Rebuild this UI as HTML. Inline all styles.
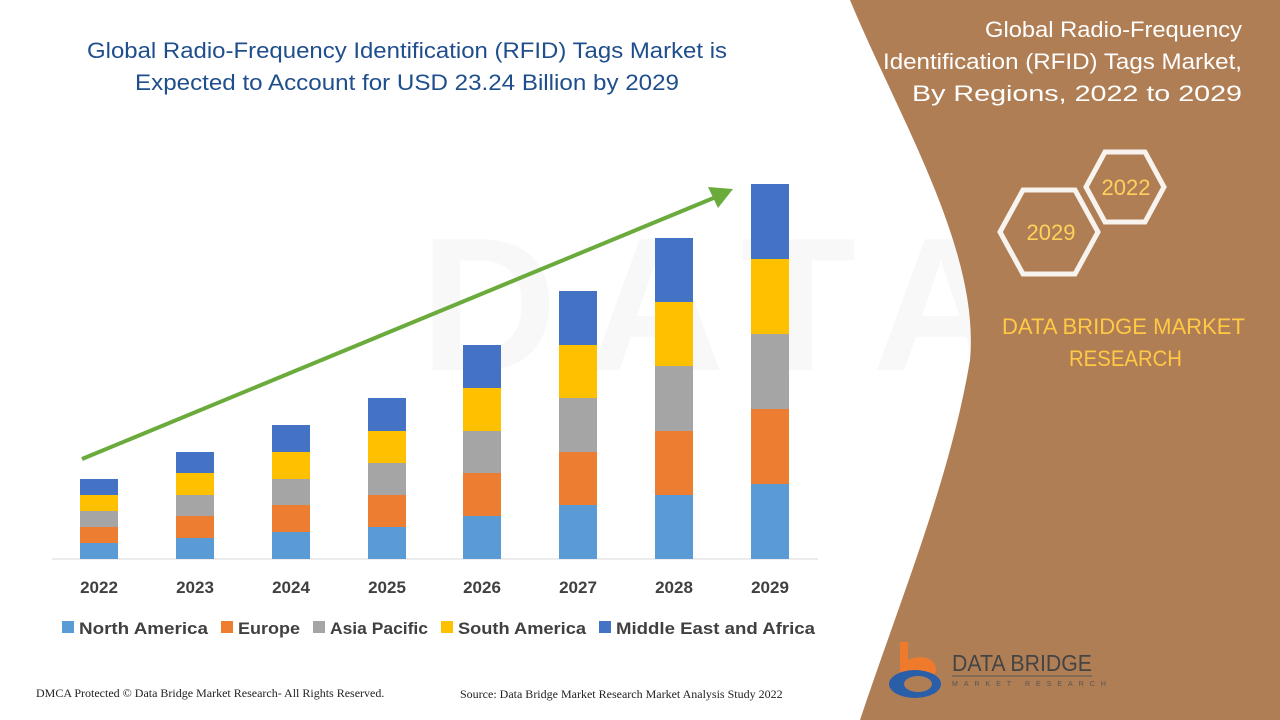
<!DOCTYPE html>
<html><head><meta charset="utf-8"><style>
html,body{margin:0;padding:0;width:1280px;height:720px;overflow:hidden;background:#fff;font-family:"Liberation Sans",sans-serif}
</style></head><body>
<svg width="1280" height="720" viewBox="0 0 1280 720" xmlns="http://www.w3.org/2000/svg">
<rect width="1280" height="720" fill="#fff"/>
<g opacity="0.035" fill="#555" font-family="Liberation Sans" font-weight="bold">
<text x="420" y="370" font-size="190" letter-spacing="30">DATA BRIDGE</text>
</g>
<path d="M850,0 L1280,0 L1280,720 L860,720 C900,600 950,480 970,360 C980,250 900,120 850,0 Z" fill="#b07e55"/>
<text x="87" y="58" font-size="22" fill="#1f4e8c" textLength="640" lengthAdjust="spacingAndGlyphs">Global Radio-Frequency Identification (RFID) Tags Market is</text>
<text x="135" y="90" font-size="22" fill="#1f4e8c" textLength="544" lengthAdjust="spacingAndGlyphs">Expected to Account for USD 23.24 Billion by 2029</text>
<g font-size="22" fill="#fff">
<text x="985" y="37" textLength="257" lengthAdjust="spacingAndGlyphs">Global Radio-Frequency</text>
<text x="883" y="69" textLength="359" lengthAdjust="spacingAndGlyphs">Identification (RFID) Tags Market,</text>
<text x="912" y="101" textLength="330" lengthAdjust="spacingAndGlyphs">By Regions, 2022 to 2029</text>
</g>
<polygon points="1086,187 1105,152 1145,152 1164,187 1145,222 1105,222" fill="none" stroke="#f7f3ee" stroke-width="5"/>
<polygon points="1000,232 1023,190 1075,190 1098,232 1075,274 1023,274" fill="none" stroke="#f7f3ee" stroke-width="5"/>
<text x="1126" y="195" text-anchor="middle" font-size="22" fill="#ffd15c">2022</text>
<text x="1051" y="240" text-anchor="middle" font-size="22" fill="#ffd15c">2029</text>
<text x="1002" y="334" font-size="22" fill="#ffc845" textLength="243" lengthAdjust="spacingAndGlyphs">DATA BRIDGE MARKET</text>
<text x="1069" y="366" font-size="22" fill="#ffc845" textLength="113" lengthAdjust="spacingAndGlyphs">RESEARCH</text>
<path d="M900,642 L908,642 L908,660 C930,650 945,668 930,680 L900,680 Z" fill="#ef7a2c"/>
<ellipse cx="915" cy="684" rx="26" ry="14" fill="#2a5ea8"/>
<ellipse cx="918" cy="684" rx="14" ry="8" fill="#b07e55"/>
<text x="952" y="671" font-size="23" fill="#444" textLength="140" lengthAdjust="spacingAndGlyphs">DATA BRIDGE</text>
<line x1="952" y1="676" x2="1092" y2="676" stroke="#555" stroke-width="1"/>
<text x="952" y="686" font-size="7" fill="#555" letter-spacing="6">MARKET RESEARCH</text>
<line x1="52" y1="559" x2="818" y2="559" stroke="#d9d9d9" stroke-width="1"/>
<g>
<rect x="80" y="543" width="38" height="16" fill="#5b9bd5"/><rect x="80" y="527" width="38" height="16" fill="#ed7d31"/><rect x="80" y="511" width="38" height="16" fill="#a5a5a5"/><rect x="80" y="495" width="38" height="16" fill="#ffc000"/><rect x="80" y="479" width="38" height="16" fill="#4472c4"/>
<rect x="176" y="538" width="38" height="21" fill="#5b9bd5"/><rect x="176" y="516" width="38" height="22" fill="#ed7d31"/><rect x="176" y="495" width="38" height="21" fill="#a5a5a5"/><rect x="176" y="473" width="38" height="22" fill="#ffc000"/><rect x="176" y="452" width="38" height="21" fill="#4472c4"/>
<rect x="272" y="532" width="38" height="27" fill="#5b9bd5"/><rect x="272" y="505" width="38" height="27" fill="#ed7d31"/><rect x="272" y="479" width="38" height="26" fill="#a5a5a5"/><rect x="272" y="452" width="38" height="27" fill="#ffc000"/><rect x="272" y="425" width="38" height="27" fill="#4472c4"/>
<rect x="368" y="527" width="38" height="32" fill="#5b9bd5"/><rect x="368" y="495" width="38" height="32" fill="#ed7d31"/><rect x="368" y="463" width="38" height="32" fill="#a5a5a5"/><rect x="368" y="431" width="38" height="32" fill="#ffc000"/><rect x="368" y="398" width="38" height="33" fill="#4472c4"/>
<rect x="463" y="516" width="38" height="43" fill="#5b9bd5"/><rect x="463" y="473" width="38" height="43" fill="#ed7d31"/><rect x="463" y="431" width="38" height="42" fill="#a5a5a5"/><rect x="463" y="388" width="38" height="43" fill="#ffc000"/><rect x="463" y="345" width="38" height="43" fill="#4472c4"/>
<rect x="559" y="505" width="38" height="54" fill="#5b9bd5"/><rect x="559" y="452" width="38" height="53" fill="#ed7d31"/><rect x="559" y="398" width="38" height="54" fill="#a5a5a5"/><rect x="559" y="345" width="38" height="53" fill="#ffc000"/><rect x="559" y="291" width="38" height="54" fill="#4472c4"/>
<rect x="655" y="495" width="38" height="64" fill="#5b9bd5"/><rect x="655" y="431" width="38" height="64" fill="#ed7d31"/><rect x="655" y="366" width="38" height="65" fill="#a5a5a5"/><rect x="655" y="302" width="38" height="64" fill="#ffc000"/><rect x="655" y="238" width="38" height="64" fill="#4472c4"/>
<rect x="751" y="484" width="38" height="75" fill="#5b9bd5"/><rect x="751" y="409" width="38" height="75" fill="#ed7d31"/><rect x="751" y="334" width="38" height="75" fill="#a5a5a5"/><rect x="751" y="259" width="38" height="75" fill="#ffc000"/><rect x="751" y="184" width="38" height="75" fill="#4472c4"/>
</g>
<line x1="82" y1="459" x2="716" y2="197" stroke="#6aab3c" stroke-width="4"/>
<polygon points="733,189 708,187 718,208" fill="#6aab3c"/>
<g font-size="17" font-weight="bold" fill="#404040" text-anchor="middle">
<text x="99" y="593">2022</text><text x="195" y="593">2023</text><text x="291" y="593">2024</text><text x="387" y="593">2025</text><text x="482" y="593">2026</text><text x="578" y="593">2027</text><text x="674" y="593">2028</text><text x="770" y="593">2029</text>
</g>
<g font-size="17" font-weight="bold" fill="#404040" lengthAdjust="spacingAndGlyphs">
<rect x="62" y="621" width="12" height="12" fill="#5b9bd5"/><text x="79" y="634" textLength="129" lengthAdjust="spacingAndGlyphs">North America</text>
<rect x="221" y="621" width="12" height="12" fill="#ed7d31"/><text x="238" y="634" textLength="62" lengthAdjust="spacingAndGlyphs">Europe</text>
<rect x="313" y="621" width="12" height="12" fill="#a5a5a5"/><text x="330" y="634" textLength="98" lengthAdjust="spacingAndGlyphs">Asia Pacific</text>
<rect x="441" y="621" width="12" height="12" fill="#ffc000"/><text x="458" y="634" textLength="128" lengthAdjust="spacingAndGlyphs">South America</text>
<rect x="599" y="621" width="12" height="12" fill="#4472c4"/><text x="616" y="634" textLength="199" lengthAdjust="spacingAndGlyphs">Middle East and Africa</text>
</g>
<text x="36" y="697" font-size="12" font-family="Liberation Serif" fill="#222">DMCA Protected © Data Bridge Market Research- All Rights Reserved.</text>
<text x="460" y="698" font-size="12" font-family="Liberation Serif" fill="#222">Source: Data Bridge Market Research Market Analysis Study 2022</text>
</svg>
</body></html>
